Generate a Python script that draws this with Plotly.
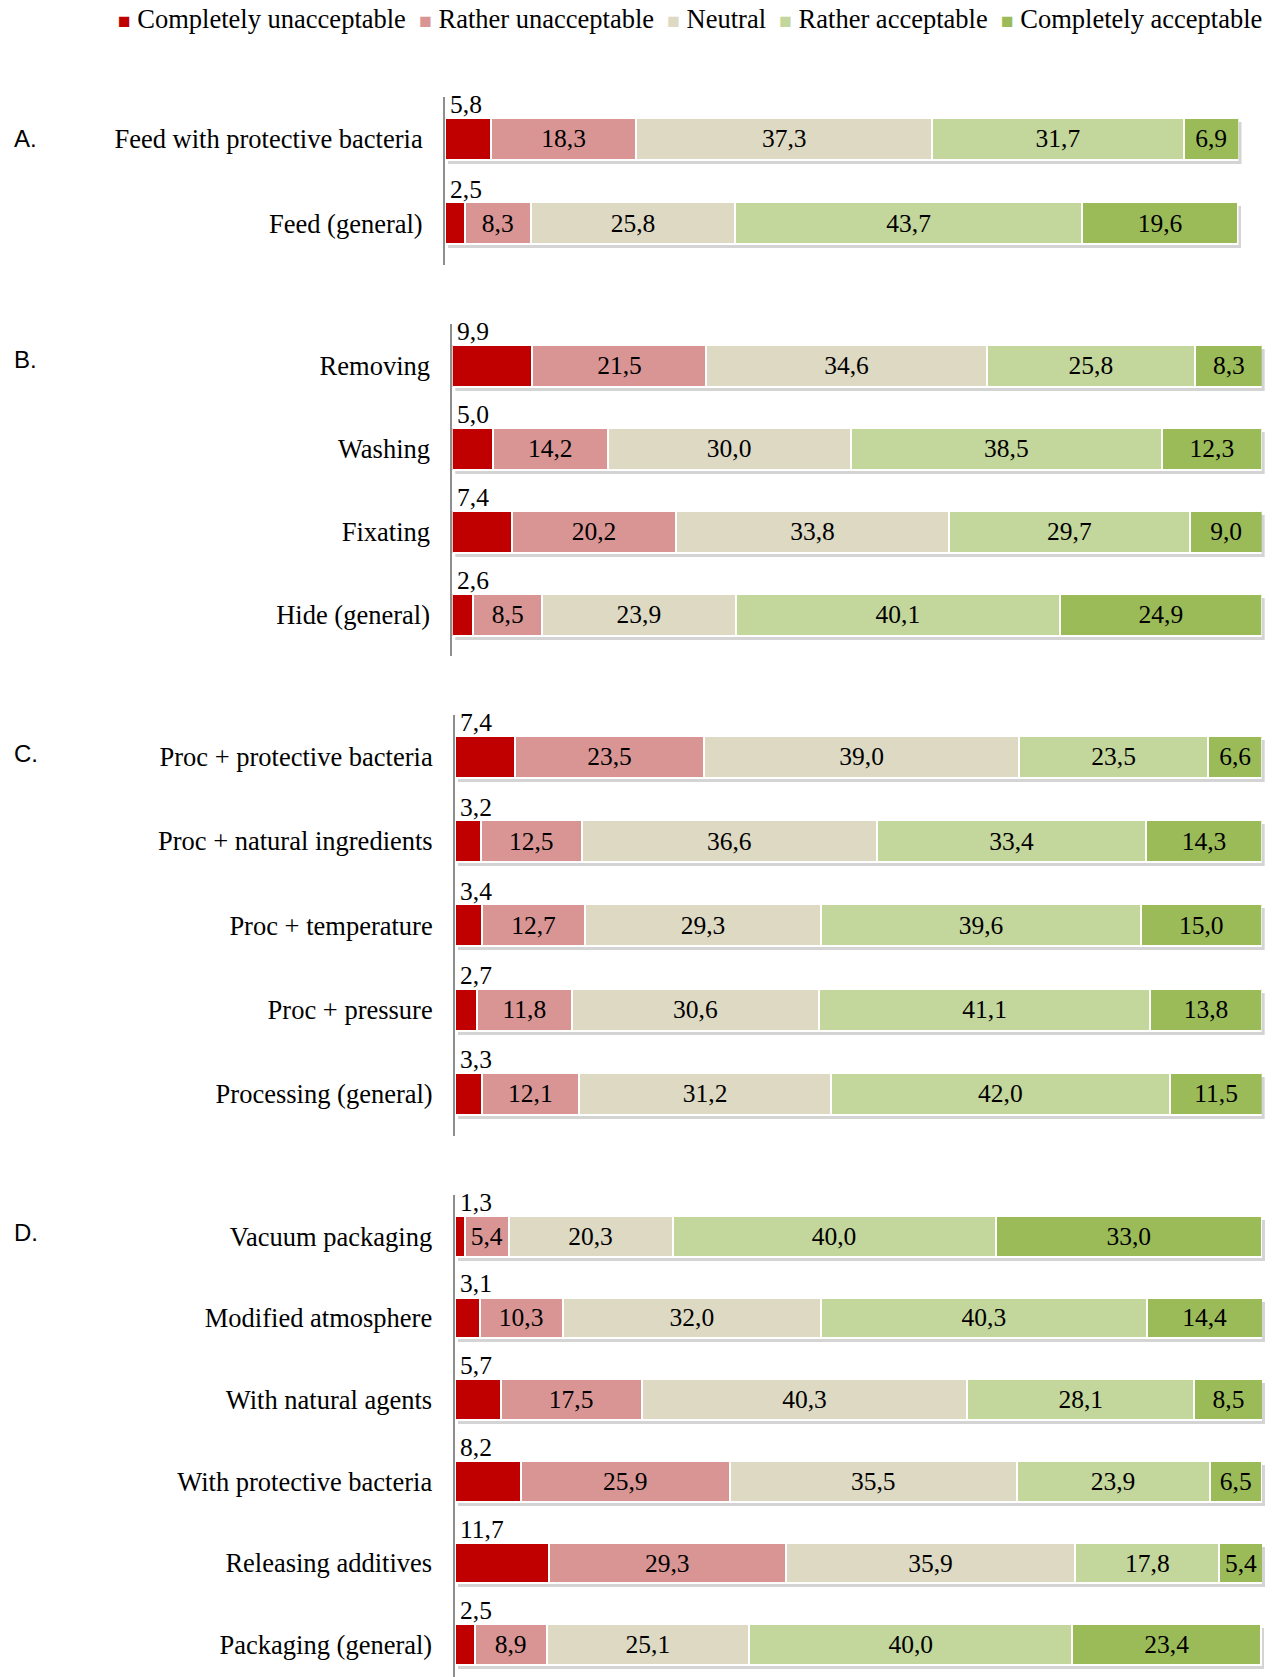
import plotly.graph_objects as go

W, H = 1272, 1677

series_names = ["Completely unacceptable", "Rather unacceptable", "Neutral",
                "Rather acceptable", "Completely acceptable"]
series_colors = ["#C00000", "#D99594", "#DDD9C3", "#C3D69B", "#9BBB59"]

# Panel A
cats_A = ["Feed with protective bacteria", "Feed (general)"]
cu_A = [5.8, 2.5]
ru_A = [18.3, 8.3]
ne_A = [37.3, 25.8]
ra_A = [31.7, 43.7]
ca_A = [6.9, 19.6]

# Panel B
cats_B = ["Removing", "Washing", "Fixating", "Hide (general)"]
cu_B = [9.9, 5.0, 7.4, 2.6]
ru_B = [21.5, 14.2, 20.2, 8.5]
ne_B = [34.6, 30.0, 33.8, 23.9]
ra_B = [25.8, 38.5, 29.7, 40.1]
ca_B = [8.3, 12.3, 9.0, 24.9]

# Panel C
cats_C = ["Proc + protective bacteria", "Proc + natural ingredients",
          "Proc + temperature", "Proc + pressure", "Processing (general)"]
cu_C = [7.4, 3.2, 3.4, 2.7, 3.3]
ru_C = [23.5, 12.5, 12.7, 11.8, 12.1]
ne_C = [39.0, 36.6, 29.3, 30.6, 31.2]
ra_C = [23.5, 33.4, 39.6, 41.1, 42.0]
ca_C = [6.6, 14.3, 15.0, 13.8, 11.5]

# Panel D
cats_D = ["Vacuum packaging", "Modified atmosphere", "With natural agents",
          "With protective bacteria", "Releasing additives", "Packaging (general)"]
cu_D = [1.3, 3.1, 5.7, 8.2, 11.7, 2.5]
ru_D = [5.4, 10.3, 17.5, 25.9, 29.3, 8.9]
ne_D = [20.3, 32.0, 40.3, 35.5, 35.9, 25.1]
ra_D = [40.0, 40.3, 28.1, 23.9, 17.8, 40.0]
ca_D = [33.0, 14.4, 8.5, 6.5, 5.4, 23.4]

panel_letters = ["A.", "B.", "C.", "D."]

# pixel geometry of each panel: x domain left/right, top of y domain, row pitch
panels = [
    dict(cats=cats_A, vals=[cu_A, ru_A, ne_A, ra_A, ca_A], x0=445, x1=1238.5, top=96.8, pitch=84.3, lshift=0),
    dict(cats=cats_B, vals=[cu_B, ru_B, ne_B, ra_B, ca_B], x0=452.3, x1=1261.7, top=324.4, pitch=83.0, lshift=6),
    dict(cats=cats_C, vals=[cu_C, ru_C, ne_C, ra_C, ca_C], x0=455, x1=1261.7, top=714.6, pitch=84.3, lshift=3),
    dict(cats=cats_D, vals=[cu_D, ru_D, ne_D, ra_D, ca_D], x0=454.5, x1=1262, top=1195.4, pitch=81.7, lshift=4),
]

SERIF = "Liberation Serif, Times New Roman, serif"
SANS = "Liberation Sans, Arial, sans-serif"
LABEL_SIZE = 26.5
VALUE_SIZE = 25.5
SHADOW_DX, SHADOW_DY = 3, 4

fig = go.Figure()
annotations = []
layout_axes = {}


def ax_ids(k):
    return ("x" if k == 1 else f"x{k}", "y" if k == 1 else f"y{k}",
            "xaxis" if k == 1 else f"xaxis{k}", "yaxis" if k == 1 else f"yaxis{k}")


for pi, p in enumerate(panels):
    n = len(p["cats"])
    bottom = min(p["top"] + n * p["pitch"], H)
    yr_bottom = -0.5 + (bottom - p["top"]) / p["pitch"]
    totals = [round(sum(v[i] for v in p["vals"]), 1) for i in range(n)]

    # shadow subplot (drawn first, beneath the bars)
    s_top = p["top"] + SHADOW_DY
    s_bottom = min(bottom + SHADOW_DY, H)
    s_range_bottom = -0.5 + (s_bottom - s_top) / p["pitch"]
    s_x0 = p["x0"] + SHADOW_DX
    s_x1 = min(p["x1"] + SHADOW_DX, W)
    sx, sy, sxk, syk = ax_ids(pi + 1)
    fig.add_trace(go.Bar(
        x=totals, y=p["cats"], orientation="h", showlegend=False,
        marker=dict(color="rgba(0,0,0,0.17)", line=dict(width=0)),
        width=0.5, hoverinfo="skip", xaxis=sx, yaxis=sy,
    ))
    layout_axes[sxk] = dict(
        domain=[s_x0 / W, s_x1 / W],
        range=[0, 100 * (s_x1 - s_x0) / (p["x1"] - p["x0"])],
        anchor=sy, visible=False, fixedrange=True,
    )
    layout_axes[syk] = dict(
        domain=[max(0.0, 1 - s_bottom / H), 1 - s_top / H], anchor=sx,
        type="category", categoryorder="array", categoryarray=p["cats"],
        range=[s_range_bottom, -0.5], visible=False, fixedrange=True,
    )

    # main subplot
    xa, ya, xkey, ykey = ax_ids(pi + 5)
    for si, (name, color) in enumerate(zip(series_names, series_colors)):
        fig.add_trace(go.Bar(
            x=p["vals"][si], y=p["cats"], orientation="h",
            name=name, legendgroup=name, showlegend=False,
            marker=dict(color=color, line=dict(color="white", width=2)),
            width=0.5,
            texttemplate=None if si == 0 else "%{x:.1f}",
            textposition="none" if si == 0 else "inside",
            insidetextanchor="middle",
            textangle=0,
            textfont=dict(family=SERIF, size=VALUE_SIZE, color="black"),
            hoverinfo="skip",
            xaxis=xa, yaxis=ya,
        ))
    # first-segment labels, placed above the bars
    for c, v in zip(p["cats"], p["vals"][0]):
        annotations.append(dict(
            x=0, y=c, xref=xa, yref=ya, xanchor="left", yanchor="middle",
            text=f"{v:.1f}".replace(".", ","), showarrow=False,
            xshift=3, yshift=34,
            font=dict(family=SERIF, size=VALUE_SIZE, color="black"),
        ))
    # panel letter
    annotations.append(dict(
        x=12 / W, y=p["cats"][0], xref="paper", yref=ya, xanchor="left", yanchor="middle",
        text=panel_letters[pi], showarrow=False, yshift=p["lshift"],
        font=dict(family=SANS, size=24, color="black"),
    ))
    layout_axes[xkey] = dict(
        domain=[p["x0"] / W, p["x1"] / W], range=[0, 100], anchor=ya,
        showgrid=False, zeroline=False, showticklabels=False, showline=False, ticks="",
        fixedrange=True,
    )
    layout_axes[ykey] = dict(
        domain=[1 - bottom / H, 1 - p["top"] / H], anchor=xa,
        type="category", categoryorder="array", categoryarray=p["cats"],
        range=[yr_bottom, -0.5], showgrid=False, zeroline=False,
        showline=True, linecolor="#8E8E8E", linewidth=2,
        ticks="outside", ticklen=15, tickcolor="rgba(0,0,0,0)",
        tickfont=dict(family=SERIF, size=LABEL_SIZE, color="black"),
        fixedrange=True,
    )

# legend drawn as a text line with coloured square markers
legend_parts = [
    f'<span style="color:{c};font-size:21px">\u25A0</span>\u00a0{n}'
    for n, c in zip(series_names, series_colors)
]
annotations.append(dict(
    x=690 / W, y=1 - 19 / H, xref="paper", yref="paper", xanchor="center", yanchor="middle",
    text="\u00a0\u00a0".join(legend_parts), showarrow=False,
    font=dict(family=SERIF, size=LABEL_SIZE, color="black"),
))

fig.update_layout(
    width=W, height=H,
    margin=dict(l=0, r=0, t=0, b=0),
    paper_bgcolor="white", plot_bgcolor="rgba(0,0,0,0)",
    barmode="stack",
    separators=",.",
    uniformtext=dict(minsize=VALUE_SIZE, mode="show"),
    showlegend=False,
    annotations=annotations,
    **layout_axes,
)

fig.write_html(
    "out.html",
    config={"displayModeBar": False, "staticPlot": True},
    post_script="document.body.style.margin='0';document.body.style.overflow='hidden';",
)
